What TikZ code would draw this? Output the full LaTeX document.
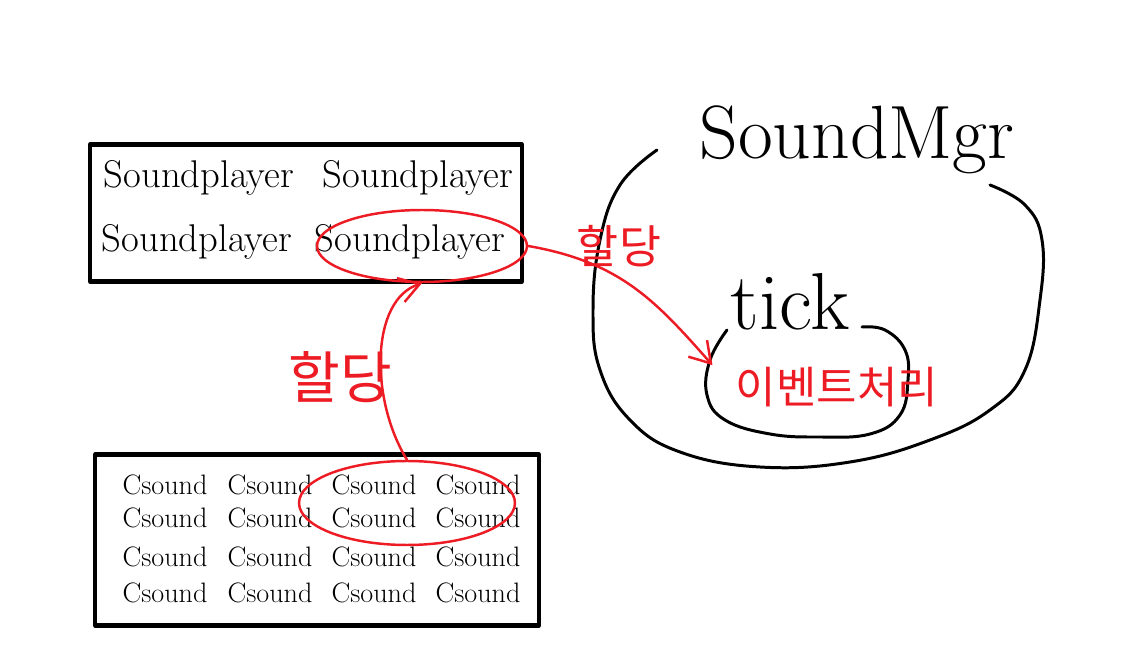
\documentclass[tikz,border=0pt]{standalone}
\usepackage{fontspec}
\newfontfamily\kr{Noto Sans CJK KR}
\usetikzlibrary{arrows.meta,shapes.geometric,positioning}
\definecolor{pen}{RGB}{237,28,36}

\begin{document}
\begin{tikzpicture}[x=0.02cm,y=-0.02cm,line cap=round,line join=round,
                    >={Straight Barb[length=4mm,width=5mm]}]
  \tikzstyle{pool}=[draw, line width=2.4pt, rectangle, inner sep=0pt]
  \tikzstyle{pick}=[draw=pen, line width=1.4pt, ellipse, inner sep=0pt]
  \tikzstyle{link}=[->, draw=pen, line width=1.4pt]
  \tikzstyle{redtxt}=[text=pen, font=\kr]
  \tikzstyle{sp}=[font=\fontsize{22}{24}\selectfont]
  \tikzstyle{cs}=[font=\fontsize{16}{18}\selectfont]
  \useasboundingbox (0,0) rectangle (1134,665);

 % player pool
 \node[pool, minimum width=8.64cm, minimum height=2.74cm](players) at (306,213){};
 \node[sp](sp1) at (199,178){Soundplayer};
 \node[sp](sp2) at (418,178){Soundplayer};
 \node[sp](sp3) at (197,242){Soundplayer};
 \node[sp](sp4) at (410,242){Soundplayer};
 \node[pick, minimum width=4.2cm, minimum height=1.44cm](sp_ring) at (422,246){};

 % sound pool
 \node[pool, minimum width=8.88cm, minimum height=3.42cm](sounds) at (317,540){};
 \foreach \c [count=\i] in {165,270,374,478}
   \foreach \r [count=\j] in {485,518,557,593}
     \node[cs](cs\i\j) at (\c,\r){Csound};
 \node[pick, minimum width=4.32cm, minimum height=1.68cm](cs_ring) at (407,503){};

 % manager
 \node[font=\fontsize{43}{46}\selectfont](mgr) at (857,140){SoundMgr};
 \draw[line width=1.7pt] plot[smooth, tension=0.7] coordinates {(657,150) (620,185) (600,240)
   (593,310) (600,370) (630,420) (680,452) (760,467) (850,462) (930,440) (990,410)
   (1025,370) (1040,300) (1042,240) (1025,205) (990,185)};
 \node[font=\fontsize{46}{50}\selectfont](tick) at (790,302){tick};
 \draw[line width=1.7pt] plot[smooth, tension=0.7] coordinates {(727,330) (710,360)
   (707,395) (725,420) (770,434) (820,437) (870,434) (900,415) (908,380) (905,350)
   (885,330) (862,327)};
 \node[ellipse, minimum width=4cm, minimum height=2.2cm](evt) at (808,382){};
 \node[redtxt, font=\kr\fontsize{25}{28}\selectfont](evt_txt) at (837,387){이벤트처리};

 % allocations
 \draw[link] (cs_ring.north) .. controls (370,400) and (370,300) .. (sp_ring.south);
 \node[redtxt, font=\kr\fontsize{32}{34}\selectfont](alloc1) at (340,377){할당};
 \draw[link] (sp_ring.east) .. controls (620,262) and (655,300) .. (evt.170);
 \node[redtxt, font=\kr\fontsize{26}{28}\selectfont](alloc2) at (619,246){할당};

\end{tikzpicture}
\end{document}
